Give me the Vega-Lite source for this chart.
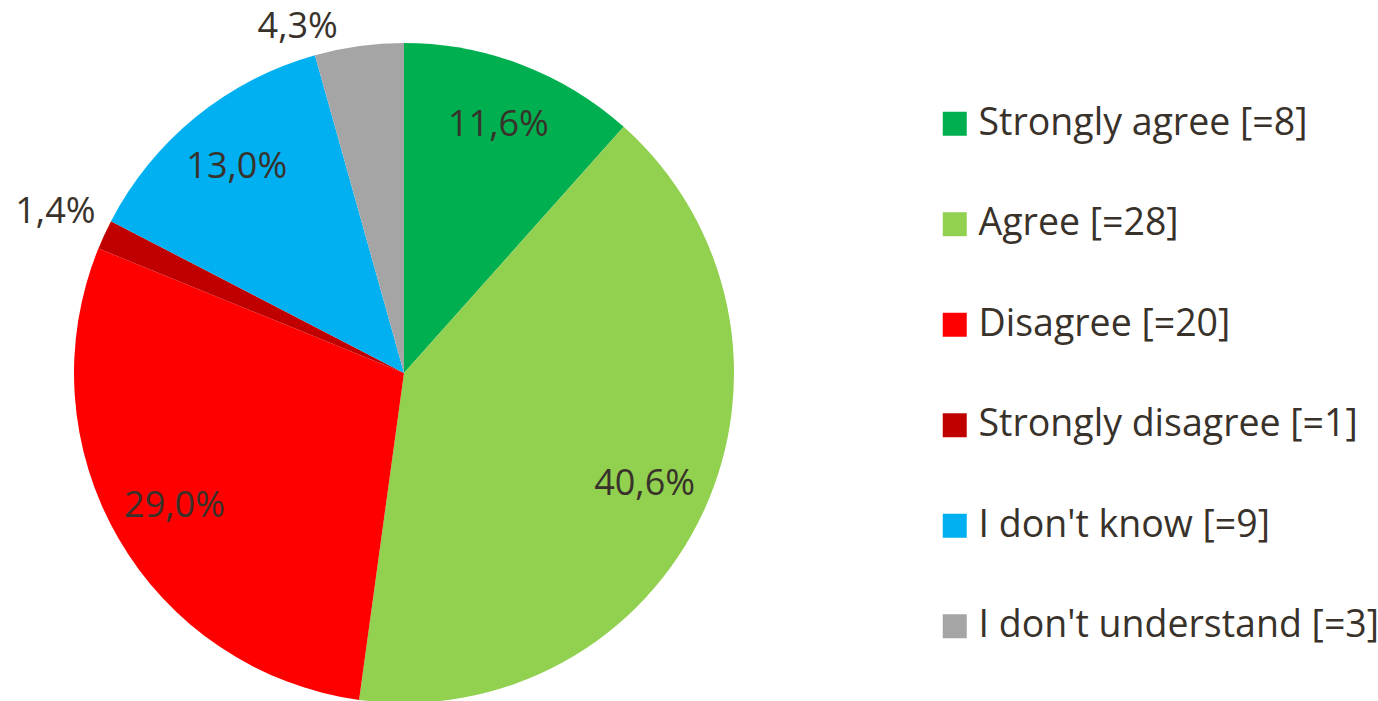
{
  "$schema": "https://vega.github.io/schema/vega-lite/v6.json",
  "width": 808,
  "height": 746,
  "autosize": {"type": "none"},
  "padding": {"left": 0, "top": 0, "right": 570, "bottom": 0},
  "background": "white",
  "config": {"view": {"stroke": null}},
  "data": {"values": [
    {"cat": "Strongly agree [=8]", "n": 8, "o": 1, "label": "11,6%"},
    {"cat": "Agree [=28]", "n": 28, "o": 2, "label": "40,6%"},
    {"cat": "Disagree [=20]", "n": 20, "o": 3, "label": "29,0%"},
    {"cat": "Strongly disagree [=1]", "n": 1, "o": 4, "label": "1,4%"},
    {"cat": "I don't know [=9]", "n": 9, "o": 5, "label": "13,0%"},
    {"cat": "I don't understand [=3]", "n": 3, "o": 6, "label": "4,3%"}
  ]},
  "encoding": {
    "theta": {"field": "n", "type": "quantitative", "stack": true},
    "order": {"field": "o", "type": "quantitative"}
  },
  "layer": [
    {
      "mark": {"type": "arc", "outerRadius": 330},
      "encoding": {
        "color": {
          "field": "cat", "type": "nominal",
          "sort": {"field": "o"},
          "scale": {
            "domain": ["Strongly agree [=8]", "Agree [=28]", "Disagree [=20]", "Strongly disagree [=1]", "I don't know [=9]", "I don't understand [=3]"],
            "range": ["#00B050", "#92D050", "#FF0000", "#C00000", "#00B0F0", "#A5A5A5"]
          },
          "legend": {
            "title": null,
            "orient": "none",
            "legendX": 936,
            "legendY": 105,
            "padding": 0,
            "symbolType": "square",
            "symbolSize": 576,
            "symbolStrokeWidth": 0,
            "symbolOpacity": 1,
            "labelFont": "Open Sans",
            "labelFontSize": 37.5,
            "labelColor": "#38322b",
            "labelOffset": 5,
            "labelLimit": 600,
            "rowPadding": 61.5
          }
        }
      }
    },
    {
      "mark": {"type": "text", "radius": 265, "font": "Open Sans", "fontSize": 36, "color": "#38322b"},
      "encoding": {
        "text": {"field": "label"},
        "opacity": {"condition": {"test": "datum.n >= 8", "value": 1}, "value": 0}
      }
    },
    {
      "mark": {"type": "text", "radius": 384, "font": "Open Sans", "fontSize": 36, "color": "#38322b"},
      "encoding": {
        "text": {"field": "label"},
        "opacity": {"condition": {"test": "datum.o == 4", "value": 1}, "value": 0}
      }
    },
    {
      "mark": {"type": "text", "radius": 340, "dx": -60, "dy": -9, "font": "Open Sans", "fontSize": 36, "color": "#38322b"},
      "encoding": {
        "text": {"field": "label"},
        "opacity": {"condition": {"test": "datum.o == 6", "value": 1}, "value": 0}
      }
    }
  ]
}
